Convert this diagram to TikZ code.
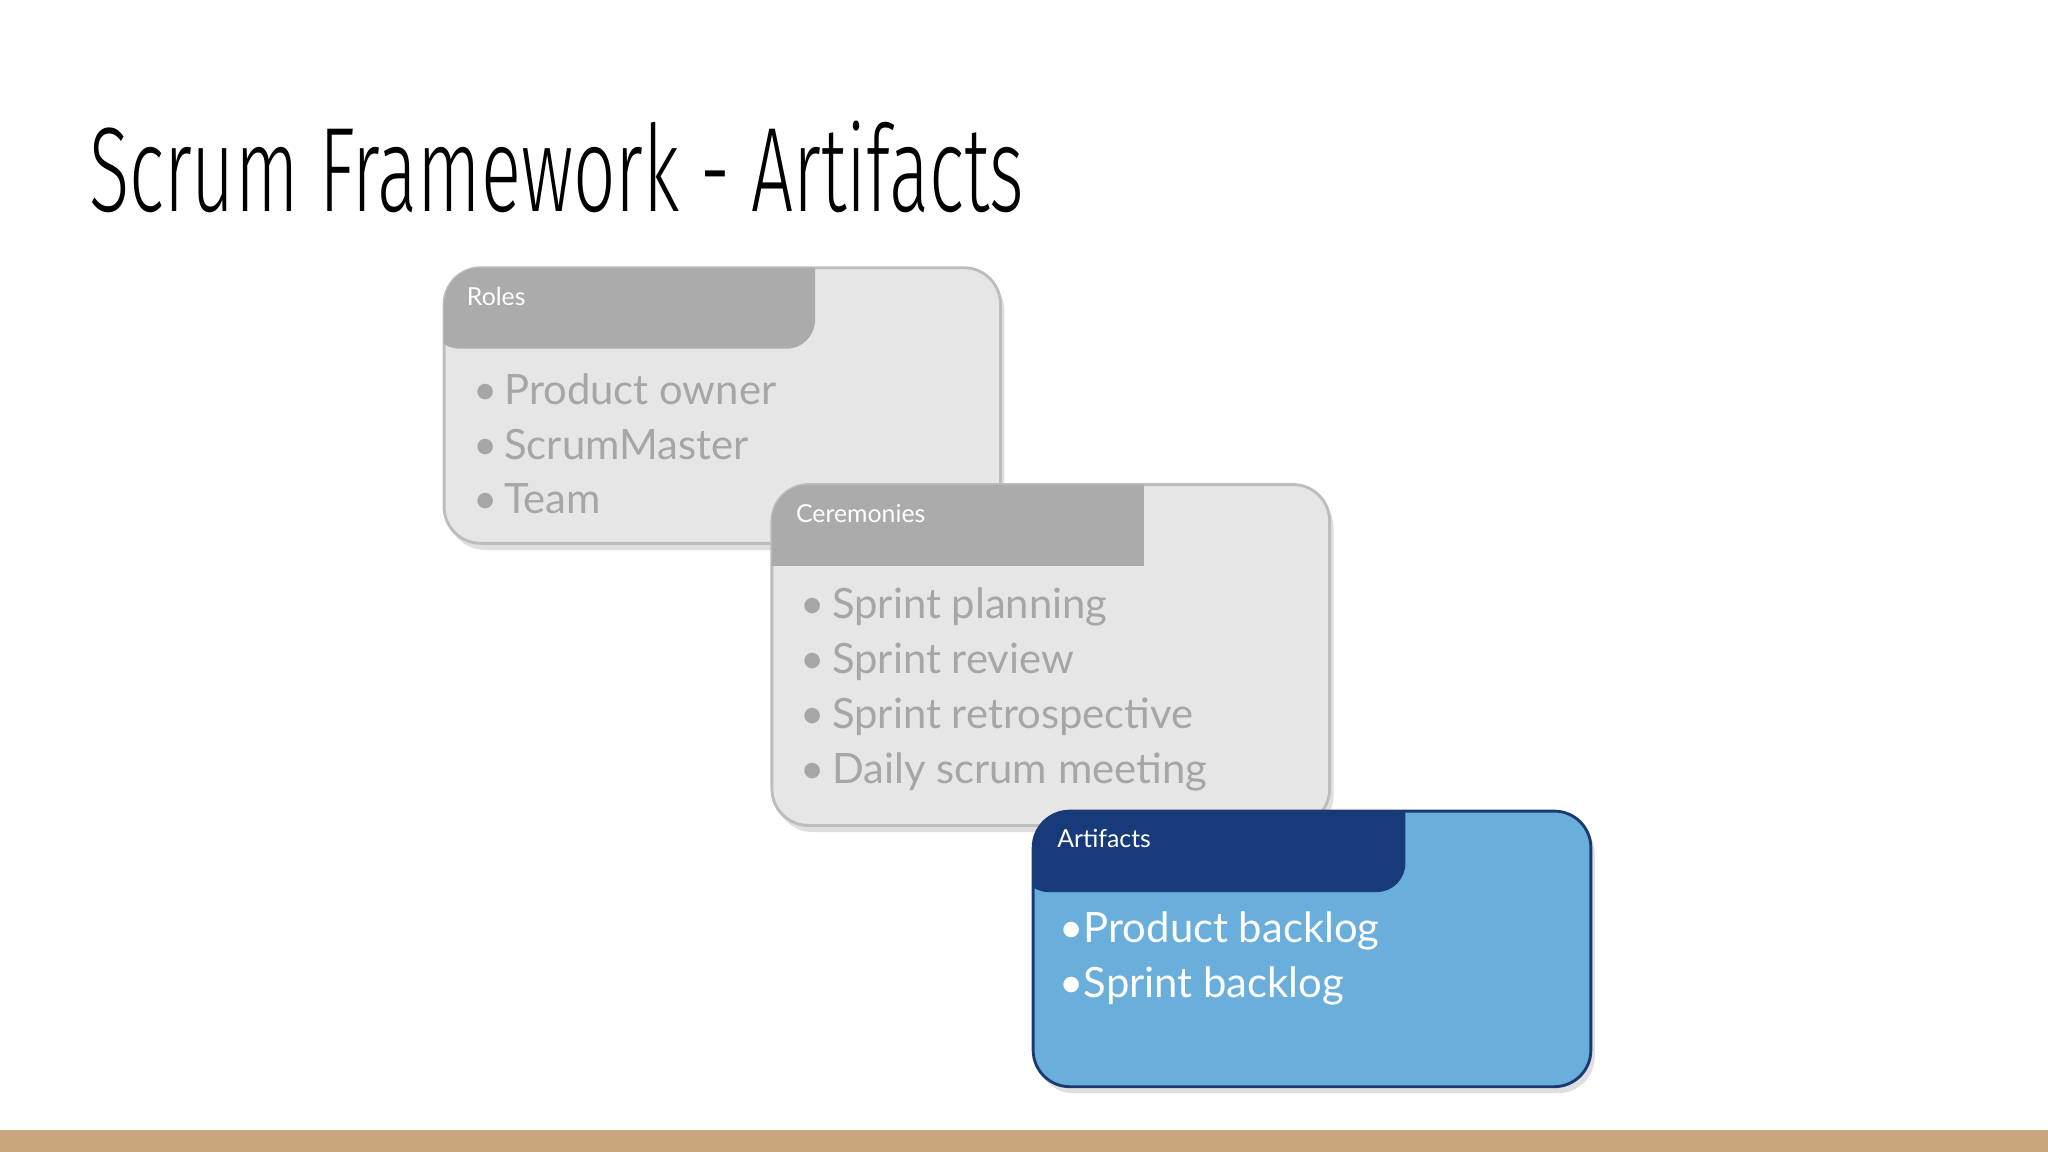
\documentclass[tikz,border=0pt]{standalone}
\usepackage{fontspec}
\setmainfont{Lato}
\newfontfamily\titlefont[FakeStretch=0.62]{Fira Sans Light}
\usetikzlibrary{shadows}
\definecolor{grayfill}{HTML}{E6E6E6}
\definecolor{grayline}{HTML}{BDBDBD}
\definecolor{grayhead}{HTML}{ABABAB}
\definecolor{graytext}{HTML}{A6A6A6}
\definecolor{bluefill}{HTML}{6AAEDC}
\definecolor{blueline}{HTML}{1A3A70}
\definecolor{bluehead}{HTML}{173A7A}
\definecolor{barcol}{HTML}{C9A77C}
\tikzset{
  card/.style={rounded corners=28pt, line width=2.2pt, drop shadow={shadow xshift=3pt,shadow yshift=-5pt,opacity=0.25}},
  headtxt/.style={anchor=west, text=white, font=\fontsize{19}{22}\selectfont},
  item/.style={anchor=west, font=\fontsize{32}{36}\selectfont, inner sep=0pt},
}
\begin{document}
\begin{tikzpicture}[x=1pt,y=-1pt]
\useasboundingbox (0,0) rectangle (1568,882);
\fill[white] (0,0) rectangle (1568,882);
\fill[barcol] (0,865) rectangle (1568,882);
\node[anchor=base west, inner sep=0pt, font=\titlefont\fontsize{92}{100}\selectfont] (title) at (68,162) {Scrum Framework - Artifacts};
% Roles
\filldraw[card, fill=grayfill, draw=grayline] (340,205) rectangle (766,416);
\begin{scope}
\clip[rounded corners=28pt] (340,205) rectangle (766,416);
\fill[grayhead] (330,195) -- (624,195) [rounded corners=22pt] -- (624,267) -- (330,267) [sharp corners] -- cycle;
\end{scope}
\node[headtxt] (rh) at (354,227) {Roles};
\node[item, text=graytext] (r1) at (362,298) {\textbullet\,Product owner};
\node[item, text=graytext] (r2) at (362,340) {\textbullet\,ScrumMaster};
\node[item, text=graytext] (r3) at (362,382) {\textbullet\,Team};
% Ceremonies
\filldraw[card, fill=grayfill, draw=grayline] (591,371) rectangle (1018,632);
\begin{scope}
\clip[rounded corners=28pt] (591,371) rectangle (1018,632);
\fill[grayhead] (581,361) rectangle (876,433);
\end{scope}
\node[headtxt] (ch) at (606,393) {Ceremonies};
\node[item, text=graytext] (c1) at (613,465) {\textbullet\,Sprint planning};
\node[item, text=graytext] (c2) at (613,507) {\textbullet\,Sprint review};
\node[item, text=graytext] (c3) at (613,549) {\textbullet\,Sprint retrospective};
\node[item, text=graytext] (c4) at (613,591) {\textbullet\,Daily scrum meeting};
% Artifacts
\filldraw[card, fill=bluefill, draw=blueline] (791,621) rectangle (1218,832);
\begin{scope}
\clip[rounded corners=28pt] (791,621) rectangle (1218,832);
\fill[bluehead] (781,611) -- (1076,611) [rounded corners=22pt] -- (1076,683) -- (781,683) [sharp corners] -- cycle;
\end{scope}
\node[headtxt] (ah) at (806,642) {Artifacts};
\node[item, text=white] (a1) at (811,713) {\textbullet Product backlog};
\node[item, text=white] (a2) at (811,755) {\textbullet Sprint backlog};
\end{tikzpicture}
\end{document}
